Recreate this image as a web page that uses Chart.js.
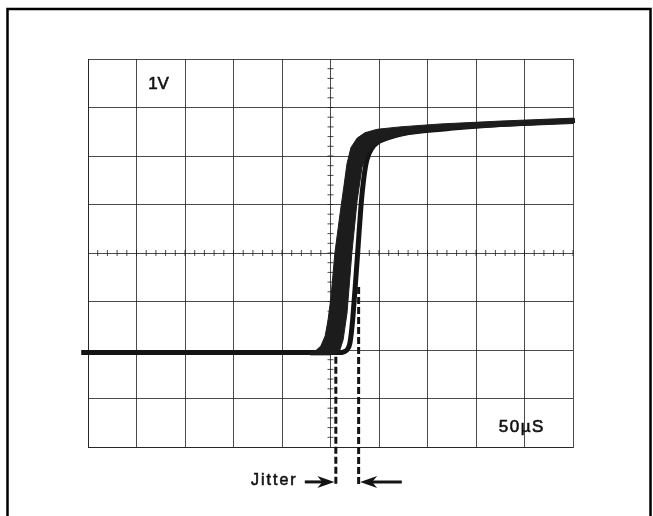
<!DOCTYPE html>
<html lang="en">
<head>
    <meta charset="UTF-8">
    <title>Trigger Jitter</title>
    <script src="https://cdn.jsdelivr.net/npm/chart.js"></script>
    <style>
        html, body { margin: 0; padding: 0; background: #fff; }
        canvas { display: block; }
    </style>
</head>
<body>
    <canvas id="scope" width="653" height="516"></canvas>

    <script>
        // everything is in graticule divisions (10 across, 8 up)
        const voltsLabel = "1V";
        const timeLabel = "50\u00b5S";
        const jitterLabel = "Jitter";

        // smeared band of the jittering edges (left edge up, then back down the right edge)
        const bandX = [4.58, 4.70, 4.80, 4.89, 4.95, 5.01, 5.09, 5.20, 5.28, 5.34, 5.42, 5.55, 5.71, 5.96, 6.43, 7.26, 8.50, 10.0,
                       10.0, 8.50, 7.26, 6.43, 6.12, 5.96, 5.77, 5.65, 5.55, 5.44, 5.34, 5.26, 5.18, 4.99, 4.58];
        const bandY = [1.96, 1.99, 2.08, 2.29, 2.62, 3.09, 4.00, 4.83, 5.40, 5.84, 6.17, 6.37, 6.48, 6.55, 6.60, 6.66, 6.72, 6.78,
                       6.67, 6.61, 6.54, 6.42, 6.33, 6.25, 6.08, 5.77, 5.09, 4.00, 2.76, 2.21, 1.96, 1.90, 1.90];

        // the latest sweep, drawn separately to the right of the band
        const traceX = [-0.14, 2.31, 4.37, 5.24, 5.34, 5.40, 5.46, 5.55, 5.63, 5.69, 5.75, 5.84, 5.98, 6.23, 6.64, 7.46, 8.50, 10.04];
        const traceY = [1.95, 1.95, 1.95, 1.95, 2.00, 2.14, 2.66, 3.86, 4.99, 5.57, 5.92, 6.14, 6.29, 6.39, 6.49, 6.57, 6.65, 6.73];

        // jitter markers
        const markerX = [5.11, 5.58];
        const markerTop = [1.86, 3.30];
        const markerBottom = -0.82;
        const arrowY = -0.72;
        const arrowTail = [4.47, 6.47];

        const toPoints = (xs, ys) => xs.map((x, i) => ({ x: x, y: ys[i] }));

        const ink = "#141414";
        const gridInk = "rgba(30,30,30,0.8)";

        const scopePlugin = {
            id: "scopeDecor",
            beforeDraw(chart) {
                const ctx = chart.ctx;
                ctx.save();
                ctx.fillStyle = "#fff";
                ctx.fillRect(0, 0, chart.width, chart.height);
                ctx.strokeStyle = "#000";
                ctx.lineWidth = 2.5;
                ctx.strokeRect(7.5, 9, 643, 530);
                ctx.restore();
            },
            afterDatasetsDraw(chart) {
                const ctx = chart.ctx;
                const xs = chart.scales.x;
                const ys = chart.scales.y;
                ctx.save();
                ctx.strokeStyle = gridInk;
                ctx.lineWidth = 1;
                // minor ticks on the centre lines
                const cx = xs.getPixelForValue(5);
                const cy = ys.getPixelForValue(4);
                ctx.beginPath();
                for (let v = 0.2; v < 8; v += 0.2) {
                    const py = ys.getPixelForValue(v);
                    ctx.moveTo(cx - 3, py);
                    ctx.lineTo(cx + 3, py);
                }
                for (let v = 0.2; v < 10; v += 0.2) {
                    const px = xs.getPixelForValue(v);
                    ctx.moveTo(px, cy - 3);
                    ctx.lineTo(px, cy + 3);
                }
                ctx.stroke();

                // arrows pointing at the markers
                ctx.strokeStyle = ink;
                ctx.fillStyle = ink;
                ctx.lineWidth = 3;
                const ay = ys.getPixelForValue(arrowY);
                markerX.forEach((mx, i) => {
                    const tip = xs.getPixelForValue(mx) + (i === 0 ? -1.5 : 1.5);
                    const tail = xs.getPixelForValue(arrowTail[i]);
                    const dir = tail < tip ? 1 : -1;
                    ctx.beginPath();
                    ctx.moveTo(tail, ay);
                    ctx.lineTo(tip - dir * 8, ay);
                    ctx.stroke();
                    ctx.beginPath();
                    ctx.moveTo(tip, ay);
                    ctx.lineTo(tip - dir * 17, ay - 6);
                    ctx.lineTo(tip - dir * 12, ay);
                    ctx.lineTo(tip - dir * 17, ay + 6);
                    ctx.closePath();
                    ctx.fill();
                });

                // labels, slightly stroked to match the heavy print
                ctx.fillStyle = "#111";
                ctx.strokeStyle = "#111";
                ctx.lineWidth = 0.6;
                ctx.textBaseline = "alphabetic";
                const label = (text, x, y, font, spacing) => {
                    ctx.font = font;
                    ctx.letterSpacing = spacing;
                    const px = xs.getPixelForValue(x);
                    const py = ys.getPixelForValue(y);
                    ctx.fillText(text, px, py);
                    ctx.strokeText(text, px, py);
                };
                label(voltsLabel, 1.24, 7.38, "17px 'Liberation Sans', Arial, sans-serif", "0px");
                label(timeLabel, 8.47, 0.31, "17px 'Liberation Sans', Arial, sans-serif", "1.5px");
                label(jitterLabel, 3.36, -0.78, "16px 'Liberation Sans', Arial, sans-serif", "2px");
                ctx.restore();
            }
        };

        const markerSets = markerX.map((mx, i) => ({
            data: [{ x: mx, y: markerTop[i] }, { x: mx, y: markerBottom }],
            showLine: true,
            borderColor: ink,
            borderWidth: 3,
            borderDash: [7, 3],
            pointRadius: 0,
            clip: false
        }));

        new Chart(document.getElementById("scope"), {
            type: "scatter",
            data: {
                datasets: [
                    {
                        data: toPoints(bandX, bandY),
                        showLine: true,
                        fill: "shape",
                        backgroundColor: "#1c1c1c",
                        borderColor: "#1c1c1c",
                        borderWidth: 1,
                        pointRadius: 0,
                        clip: false
                    },
                    {
                        data: toPoints(traceX, traceY),
                        showLine: true,
                        borderColor: ink,
                        borderWidth: 5,
                        tension: 0.2,
                        pointRadius: 0,
                        clip: false
                    },
                    ...markerSets
                ]
            },
            options: {
                responsive: false,
                animation: false,
                layout: { padding: { left: 88, top: 59, right: 80, bottom: 69 } },
                plugins: {
                    legend: { display: false },
                    tooltip: { enabled: false }
                },
                scales: {
                    x: {
                        type: "linear",
                        min: 0,
                        max: 10,
                        ticks: { display: false, stepSize: 1 },
                        grid: { color: gridInk, lineWidth: 1, drawTicks: false },
                        border: { color: gridInk, width: 1 }
                    },
                    y: {
                        type: "linear",
                        min: 0,
                        max: 8,
                        ticks: { display: false, stepSize: 1 },
                        grid: { color: gridInk, lineWidth: 1, drawTicks: false },
                        border: { color: gridInk, width: 1 }
                    }
                }
            },
            plugins: [scopePlugin]
        });
    </script>
</body>
</html>
